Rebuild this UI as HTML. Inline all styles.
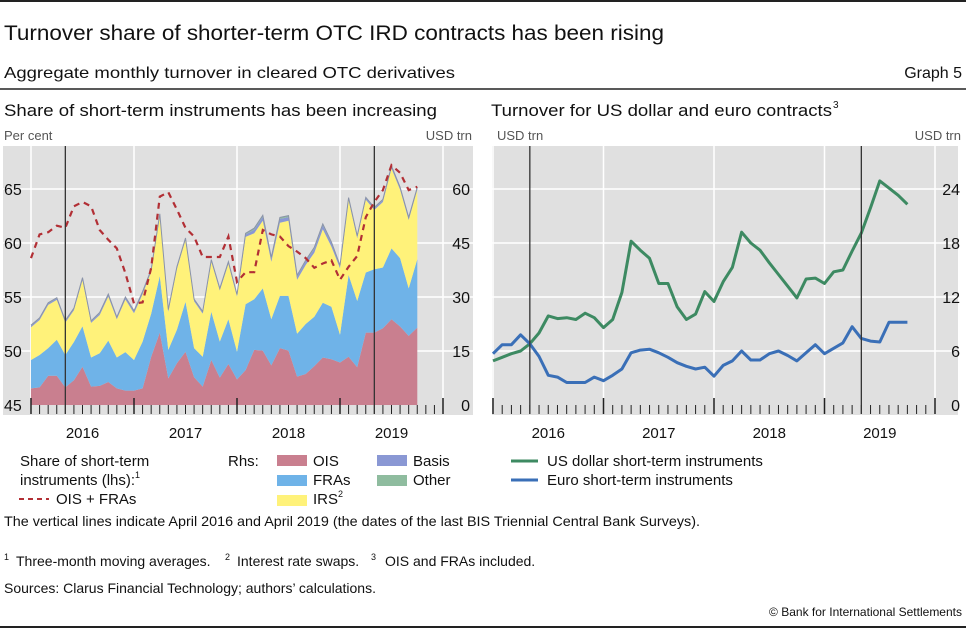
<!DOCTYPE html>
<html><head><meta charset="utf-8"><style>
html,body{margin:0;padding:0;background:#fff;}
svg text{font-family:"Liberation Sans",sans-serif;fill:#111;}
</style></head><body>
<svg id="root" width="966" height="629" viewBox="0 0 966 629" xmlns="http://www.w3.org/2000/svg">
<line x1="0" y1="1" x2="966" y2="1" stroke="#222" stroke-width="2"/>
<text x="4" y="40" font-size="21" textLength="660" lengthAdjust="spacingAndGlyphs">Turnover share of shorter-term OTC IRD contracts has been rising</text>
<text x="4" y="78" font-size="16" textLength="451" lengthAdjust="spacingAndGlyphs">Aggregate monthly turnover in cleared OTC derivatives</text>
<text x="962" y="78" font-size="16" text-anchor="end">Graph 5</text>
<line x1="0" y1="89" x2="966" y2="89" stroke="#222" stroke-width="1.5"/>
<text x="4" y="116" font-size="17" textLength="433" lengthAdjust="spacingAndGlyphs">Share of short-term instruments has been increasing</text>
<text x="491" y="116" font-size="17" textLength="341" lengthAdjust="spacingAndGlyphs">Turnover for US dollar and euro contracts</text>
<text x="833" y="108" font-size="10">3</text>
<text x="4" y="140" font-size="13" style="fill:#555">Per cent</text>
<text x="472" y="140" font-size="13" text-anchor="end" style="fill:#555">USD trn</text>
<text x="497" y="140" font-size="13" style="fill:#555">USD trn</text>
<text x="961" y="140" font-size="13" text-anchor="end" style="fill:#555">USD trn</text>
<g id="left"></g>
<g id="right"></g>

<g>
<text x="20" y="466" font-size="15">Share of short-term</text>
<text x="20" y="485" font-size="15">instruments (lhs):<tspan font-size="9" dy="-7">1</tspan></text>
<line x1="19" y1="499" x2="49" y2="499" stroke="#b22f35" stroke-width="2" stroke-dasharray="5,4"/>
<text x="56" y="504" font-size="15">OIS + FRAs</text>
<text x="228" y="466" font-size="15">Rhs:</text>
<rect x="277" y="455" width="30" height="11" fill="#c97f8f"/>
<text x="313" y="466" font-size="15">OIS</text>
<rect x="277" y="475" width="30" height="11" fill="#6fb3e8"/>
<text x="313" y="485" font-size="15">FRAs</text>
<rect x="277" y="495" width="30" height="11" fill="#fff27a"/>
<text x="313" y="504" font-size="15">IRS<tspan font-size="9" dy="-7">2</tspan></text>
<rect x="377" y="455" width="30" height="11" fill="#8a98d4"/>
<text x="413" y="466" font-size="15">Basis</text>
<rect x="377" y="475" width="30" height="11" fill="#8fbc9f"/>
<text x="413" y="485" font-size="15">Other</text>
</g>
<g>
<line x1="511" y1="461" x2="538" y2="461" stroke="#3d8a62" stroke-width="3"/>
<text x="547" y="466" font-size="15">US dollar short-term instruments</text>
<line x1="511" y1="480" x2="538" y2="480" stroke="#3a6fb7" stroke-width="3"/>
<text x="547" y="485" font-size="15">Euro short-term instruments</text>
</g>
<text x="4" y="526" font-size="14" textLength="696" lengthAdjust="spacingAndGlyphs">The vertical lines indicate April 2016 and April 2019 (the dates of the last BIS Triennial Central Bank Surveys).</text>
<text x="4" y="566" font-size="14"><tspan font-size="9" dy="-6">1</tspan><tspan x="16" dy="6">Three-month moving averages.</tspan><tspan x="225" font-size="9" dy="-6">2</tspan><tspan x="237" dy="6">Interest rate swaps.</tspan><tspan x="371" font-size="9" dy="-6">3</tspan><tspan x="385" dy="6">OIS and FRAs included.</tspan></text>
<text x="4" y="593" font-size="14">Sources: Clarus Financial Technology; authors’ calculations.</text>
<text x="962" y="616" font-size="12" text-anchor="end">© Bank for International Settlements</text>
<line x1="0" y1="627" x2="966" y2="627" stroke="#222" stroke-width="2"/>
</svg>
<script>
const NS="http://www.w3.org/2000/svg";
const years=["2016","2017","2018","2019"];
const leftTicksL=[45,50,55,60,65];
const leftTicksR=[0,15,30,45,60];
const rightTicks=[0,6,12,18,24];
const ois=[4.6,4.9,8.1,8.1,4.9,6.9,10.6,5.1,5.3,6.4,4.6,4.0,4.0,4.6,13.4,20.1,7.4,11.6,14.8,7.7,5.1,12.5,7.6,11.4,7.1,9.7,15.3,15.1,11.0,15.8,15.1,7.9,8.6,10.8,13.2,12.7,11.8,13.4,10.5,20.1,20.1,21.3,23.8,21.8,19.2,21.5];
const fras=[7.9,9.0,7.7,10.0,9.0,10.6,11.3,8.1,9.1,11.5,8.6,10.7,8.5,13.0,12.0,15.7,7.9,9.3,13.9,8.1,8.3,13.4,10.0,12.4,7.7,18.3,14.1,17.3,12.8,14.5,15.2,11.9,13.9,13.7,15.2,14.6,7.7,22.7,18.4,16.7,17.6,16.9,19.7,19.0,13.2,19.0];
const irs=[9.1,9.7,12.0,11.1,9.0,8.8,12.8,9.6,10.6,12.2,10.6,14.6,13.0,13.2,11.6,16.7,10.6,16.9,17.1,13.0,12.0,13.9,14.2,15.4,15.3,18.7,18.3,18.8,16.0,20.3,20.9,15.0,16.4,17.8,20.4,16.7,18.5,20.8,17.4,20.2,16.5,18.2,22.2,19.0,19.0,19.3];
const basis=[0.4,0.4,0.4,0.4,0.4,0.4,0.5,0.4,0.5,0.5,0.4,0.5,0.5,0.5,0.4,0.4,0.4,0.4,0.4,0.4,0.4,0.4,0.4,0.4,0.4,0.7,1.0,1.1,0.9,1.1,1.0,0.9,1.0,1.1,1.1,1.0,0.6,0.5,0.5,0.5,0.5,0.5,0.5,0.5,0.5,0.5];
const other=[0.2,0.2,0.2,0.2,0.2,0.2,0.2,0.2,0.2,0.2,0.2,0.2,0.2,0.2,0.2,0.2,0.2,0.2,0.2,0.2,0.2,0.2,0.2,0.2,0.2,0.3,0.4,0.4,0.3,0.4,0.4,0.3,0.3,0.4,0.4,0.3,0.2,0.2,0.2,0.2,0.2,0.2,0.2,0.2,0.2,0.2];
const oisFras=[58.6,60.8,61.0,61.6,61.4,63.4,63.8,63.4,61.2,60.3,59.5,57.2,54.4,54.5,57.7,64.3,64.7,63.1,61.4,60.6,58.7,58.7,58.7,60.6,56.4,57.3,57.3,61.2,60.8,60.6,59.7,59.2,58.6,57.7,58.1,58.4,56.6,57.8,58.8,62.4,63.8,64.9,67.2,66.5,64.9,65.2];
const usd=[4.9,5.3,5.7,6.0,6.8,8.0,9.9,9.6,9.7,9.5,10.2,9.7,8.6,9.5,12.5,18.2,17.2,16.3,13.5,13.5,10.9,9.5,10.1,12.6,11.5,13.7,15.3,19.2,18.0,17.2,15.8,14.5,13.2,11.9,14.0,14.1,13.5,14.8,15.0,17.1,19.1,21.9,24.9,24.1,23.3,22.3];
const eur=[5.7,6.7,6.7,7.8,6.8,5.4,3.3,3.1,2.5,2.5,2.5,3.1,2.7,3.3,4.0,5.8,6.1,6.2,5.8,5.3,4.7,4.3,4.0,4.2,3.2,4.4,4.9,6.0,5.0,5.0,5.7,6.0,5.5,4.9,5.8,6.7,5.7,6.3,6.9,8.7,7.4,7.1,7.0,9.2,9.2,9.2];

function mk(parent,tag,attrs){const e=document.createElementNS(NS,tag);for(const k in attrs)e.setAttribute(k,attrs[k]);parent.appendChild(e);return e;}

function frame(g,cfg){
  const bg=mk(g,'rect',{x:cfg.bx0,y:146,width:cfg.bx1-cfg.bx0,height:269,fill:'#e0e0e0'});
  
  
  cfg.tickVals.forEach((v,i)=>{
    const y=cfg.yR(v);
    if(i>0){const gl=mk(g,'line',{x1:cfg.bx0,x2:cfg.bx1,y1:y,y2:y,stroke:'#fff','stroke-width':1.5});
      
      }
  });
  for(let k=0;k<=4;k++){const x=cfg.x0+k*12*cfg.mw;
    const vl=mk(g,'line',{x1:x,x2:x,y1:146,y2:398,stroke:'#fff','stroke-width':1.5});
    
    }
}
function axes(g,cfg){
  for(let k=0;k<=48;k++){const x=cfg.x0+k*cfg.mw;const major=k%12===0;
    const t=mk(g,'line',{x1:x,x2:x,y1:major?398:405,y2:414,stroke:'#222','stroke-width':major?1.5:1});
    
    }
  years.forEach((yr,i)=>{const t=mk(g,'text',{x:cfg.x0+(i*12+6)*cfg.mw,y:438,'font-size':15,'text-anchor':'middle'});t.textContent=yr;
    
    });
  [4,40].forEach(m=>{const x=cfg.x0+m*cfg.mw;
    const l=mk(g,'line',{x1:x,x2:x,y1:146,y2:414,stroke:'#333','stroke-width':1.3});
    
    });
}
const gl=document.getElementById('left');
const L={x0:31,mw:(443-31)/48};
const lx=i=>L.x0+i*L.mw;
const lyR=v=>405-v*3.6;
const lyL=v=>405-(v-45)*10.8;
frame(gl,{bx0:3,bx1:473,x0:31,mw:L.mw,tickVals:leftTicksR,yR:lyR});
const layers=[[ois,'#c97f8f','area-ois'],[fras,'#6fb3e8','area-fras'],[irs,'#fff27a','area-irs'],[basis,'#8a98d4','area-basis'],[other,'#8fbc9f','area-other']];
let base=ois.map(()=>0);
layers.forEach(([arr,col,name])=>{
  const top=arr.map((v,i)=>base[i]+v);
  let d='M'+top.map((v,i)=>lx(i).toFixed(1)+','+lyR(v).toFixed(1)).join('L');
  for(let i=arr.length-1;i>=0;i--)d+='L'+lx(i).toFixed(1)+','+lyR(base[i]).toFixed(1);
  const p=mk(gl,'path',{d:d+'Z',fill:col});
  
  
  base=top;
});
const outline=mk(gl,'path',{d:'M'+base.map((v,i)=>lx(i).toFixed(1)+','+lyR(v).toFixed(1)).join('L'),fill:'none',stroke:'#8a93a8','stroke-width':1});


const dl=mk(gl,'path',{d:'M'+oisFras.map((v,i)=>lx(i).toFixed(1)+','+lyL(v).toFixed(1)).join('L'),fill:'none',stroke:'#b22f35','stroke-width':2.2,'stroke-dasharray':'6,5'});


axes(gl,{x0:31,mw:L.mw});
leftTicksL.forEach(v=>{const t=mk(gl,'text',{x:4,y:lyL(v)+6,'font-size':16});t.textContent=v;
  
  });
leftTicksR.forEach(v=>{const t=mk(gl,'text',{x:470,y:lyR(v)+6,'font-size':16,'text-anchor':'end'});t.textContent=v;
  
  });
const gr=document.getElementById('right');
const R={x0:493,mw:(935-493)/48};
const rx=i=>R.x0+i*R.mw;
const ry=v=>405-v*9;
frame(gr,{bx0:492,bx1:958,x0:493,mw:R.mw,tickVals:rightTicks,yR:ry});
[[usd,'#3d8a62','line-usd'],[eur,'#3a6fb7','line-eur']].forEach(([arr,col,name])=>{
  const p=mk(gr,'path',{d:'M'+arr.map((v,i)=>rx(i).toFixed(1)+','+ry(v).toFixed(1)).join('L'),fill:'none',stroke:col,'stroke-width':3,'stroke-linejoin':'round'});
  
  
});
axes(gr,{x0:493,mw:R.mw});
rightTicks.forEach(v=>{const t=mk(gr,'text',{x:960,y:ry(v)+6,'font-size':16,'text-anchor':'end'});t.textContent=v;
  
  });
</script>
</body></html>
